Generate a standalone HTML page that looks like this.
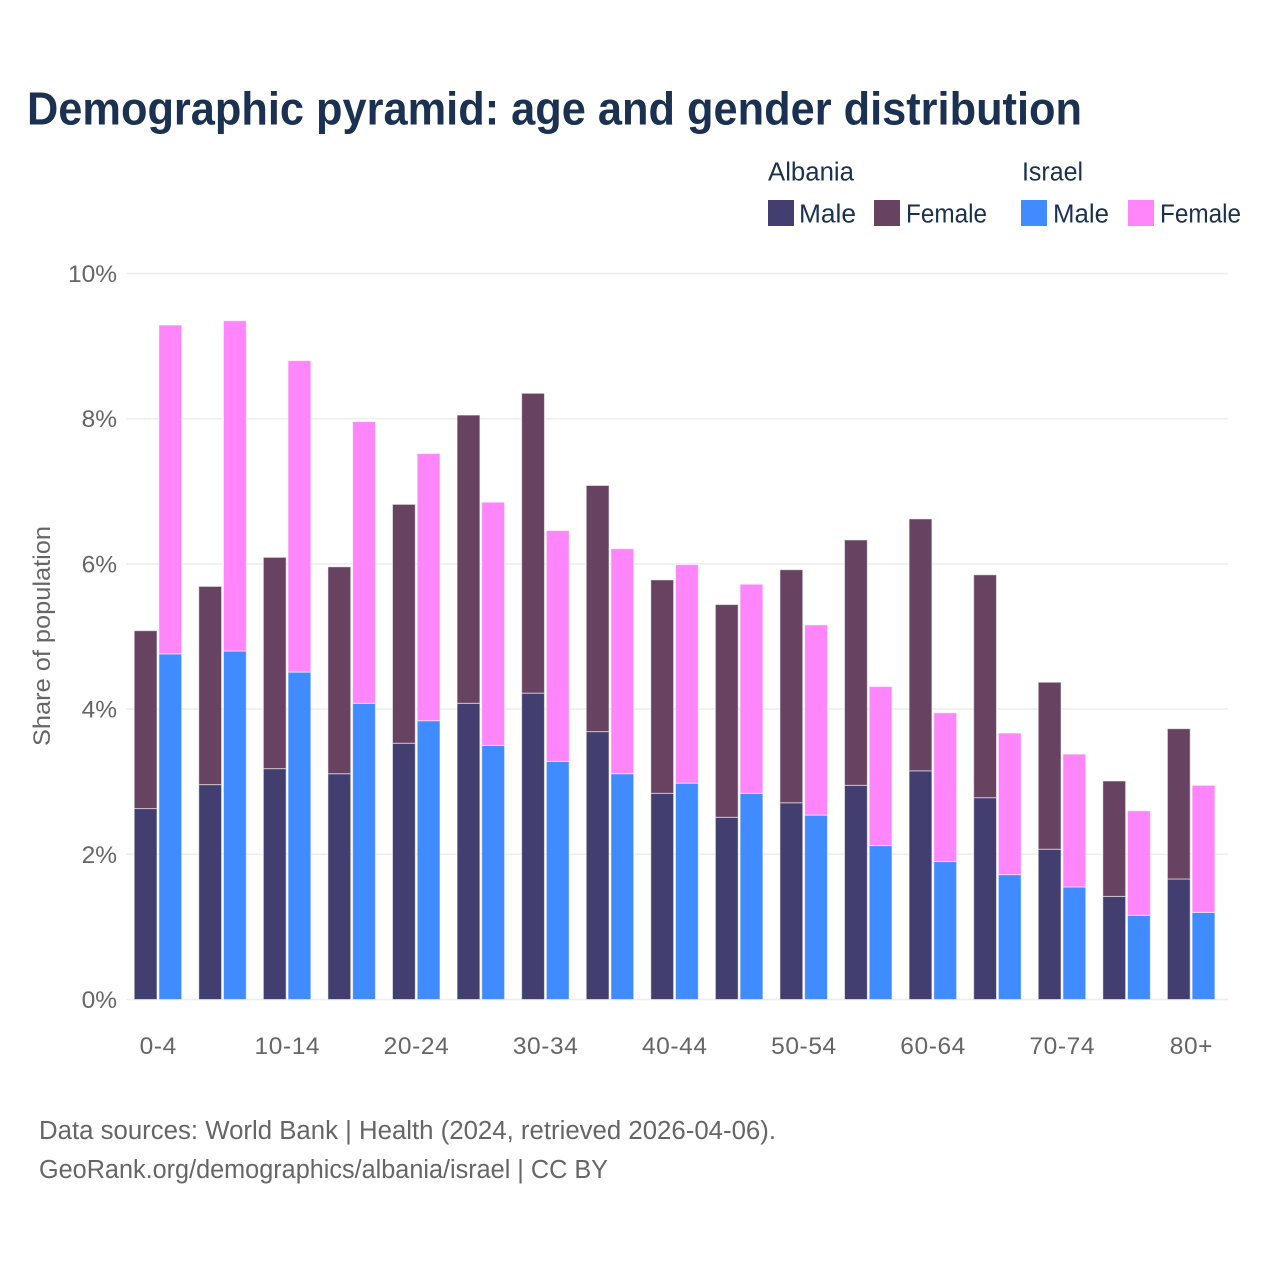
<!DOCTYPE html>
<html lang="en">
<head>
<meta charset="utf-8">
<title>Demographic pyramid</title>
<style>
html,body{margin:0;padding:0;background:#fff}
svg{display:block}
text{font-family:"Liberation Sans",sans-serif}
.tick{font-size:24.5px;fill:#666}
.leg{font-size:25.5px;fill:#1a3152}
.foot{font-size:25.5px;fill:#666}
</style>
</head>
<body>
<svg id="chart" width="1280" height="1280" viewBox="0 0 1280 1280" xmlns="http://www.w3.org/2000/svg">
<rect x="0" y="0" width="1280" height="1280" fill="#fff"/>
<text x="27" y="124.5" font-size="46" font-weight="700" fill="#1a3152" textLength="1055" lengthAdjust="spacingAndGlyphs">Demographic pyramid: age and gender distribution</text>

<g>
<text class="leg" x="768" y="180.5" textLength="86" lengthAdjust="spacingAndGlyphs">Albania</text>
<text class="leg" x="1022" y="180.5" textLength="61" lengthAdjust="spacingAndGlyphs">Israel</text>
<rect x="768" y="200" width="26" height="26" fill="#433e70"/>
<text class="leg" x="799" y="222.5" textLength="57" lengthAdjust="spacingAndGlyphs">Male</text>
<rect x="874" y="200" width="26" height="26" fill="#674261"/>
<text class="leg" x="906" y="222.5" textLength="81" lengthAdjust="spacingAndGlyphs">Female</text>
<rect x="1021" y="200" width="26" height="26" fill="#408bff"/>
<text class="leg" x="1053" y="222.5" textLength="56" lengthAdjust="spacingAndGlyphs">Male</text>
<rect x="1128" y="200" width="26" height="26" fill="#ff85fa"/>
<text class="leg" x="1160" y="222.5" textLength="81" lengthAdjust="spacingAndGlyphs">Female</text>
</g>

<g id="grid"></g>
<g id="bars"></g>
<g id="xlabels"></g>

<text class="tick" transform="translate(50,746) rotate(-90)" x="0" y="0" textLength="220" lengthAdjust="spacingAndGlyphs">Share of population</text>

<text class="foot" x="39" y="1139" textLength="737" lengthAdjust="spacingAndGlyphs">Data sources: World Bank | Health (2024, retrieved 2026-04-06).</text>
<text class="foot" x="39" y="1178" textLength="569" lengthAdjust="spacingAndGlyphs">GeoRank.org/demographics/albania/israel | CC BY</text>
</svg>
<script>
var categories = ["0-4","5-9","10-14","15-19","20-24","25-29","30-34","35-39","40-44","45-49","50-54","55-59","60-64","65-69","70-74","75-79","80+"];
var albaniaMale = [2.63,2.96,3.18,3.11,3.53,4.08,4.22,3.69,2.84,2.51,2.71,2.95,3.15,2.78,2.07,1.42,1.66];
var albaniaFemale = [2.45,2.73,2.91,2.85,3.29,3.97,4.13,3.39,2.94,2.93,3.21,3.38,3.47,3.07,2.30,1.59,2.07];
var israelMale = [4.76,4.80,4.51,4.08,3.84,3.50,3.28,3.11,2.98,2.84,2.54,2.12,1.90,1.72,1.55,1.16,1.20];
var israelFemale = [4.53,4.55,4.29,3.88,3.68,3.35,3.18,3.10,3.01,2.88,2.62,2.19,2.05,1.95,1.83,1.44,1.75];
var yTicks = [0,2,4,6,8,10];
var xTickLabels = ["0-4","","10-14","","20-24","","30-34","","40-44","","50-54","","60-64","","70-74","","80+"];

var SVG_NS = "http://www.w3.org/2000/svg";
function yScale(v){ return 999.5 - v * 72.6; }
function xScale(i){ return 158.2 + i * (1191.4 - 158.2) / (categories.length - 1); }

var grid = document.getElementById("grid");
yTicks.forEach(function(t){
  var line = document.createElementNS(SVG_NS, "line");
  
  
  line.setAttribute("x1", 126);
  line.setAttribute("x2", 1228);
  line.setAttribute("y1", yScale(t));
  line.setAttribute("y2", yScale(t));
  line.setAttribute("stroke", "#eeeeee");
  line.setAttribute("stroke-width", 1.6);
  grid.appendChild(line);
  var label = document.createElementNS(SVG_NS, "text");
  
  
  label.setAttribute("class", "tick");
  label.setAttribute("x", 117);
  label.setAttribute("y", yScale(t) + 8.5);
  label.setAttribute("text-anchor", "end");
  label.textContent = t + "%";
  grid.appendChild(label);
});

var barsGroup = document.getElementById("bars");
function addBar(x, base, value, fill, name){
  var r = document.createElementNS(SVG_NS, "rect");
  
  
  var top = yScale(base + value);
  r.setAttribute("x", x);
  r.setAttribute("y", top);
  r.setAttribute("width", 22.8);
  r.setAttribute("height", yScale(base) - top);
  r.setAttribute("fill", fill);
  r.setAttribute("stroke", "#ffffff");
  r.setAttribute("stroke-opacity", "0.55");
  r.setAttribute("stroke-width", 1);
  barsGroup.appendChild(r);
}
categories.forEach(function(c, i){
  var cx = xScale(i);
  addBar(cx - 24, 0, albaniaMale[i], "#433e70", "bar-albania-male");
  addBar(cx - 24, albaniaMale[i], albaniaFemale[i], "#674261", "bar-albania-female");
  addBar(cx + 0.7, 0, israelMale[i], "#408bff", "bar-israel-male");
  addBar(cx + 0.7, israelMale[i], israelFemale[i], "#ff85fa", "bar-israel-female");
});

var xlabels = document.getElementById("xlabels");
xTickLabels.forEach(function(t, i){
  if (!t) return;
  var label = document.createElementNS(SVG_NS, "text");
  
  
  label.setAttribute("class", "tick");
  label.setAttribute("x", xScale(i));
  label.setAttribute("y", 1054);
  label.setAttribute("text-anchor", "middle");
  label.setAttribute("letter-spacing", "0.6");
  label.textContent = t;
  xlabels.appendChild(label);
});
</script>
</body>
</html>
